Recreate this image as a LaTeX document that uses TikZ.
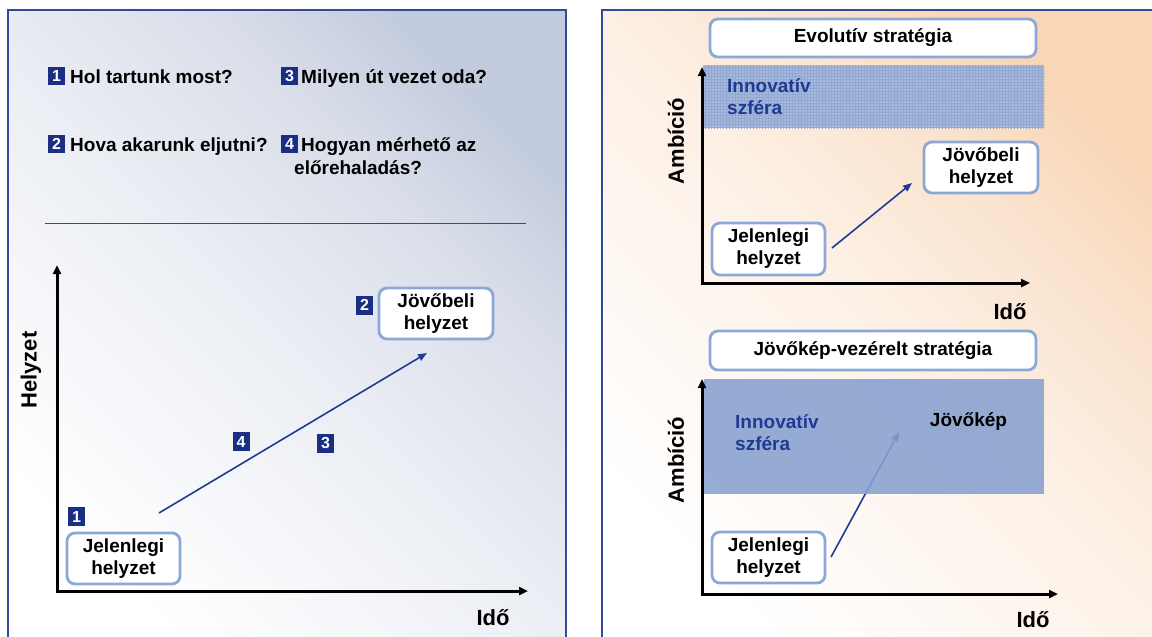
\documentclass[tikz,border=0pt]{standalone}
\usepackage{fontspec}
\setmainfont{Liberation Sans}
\usetikzlibrary{arrows.meta,patterns}
\definecolor{navy}{HTML}{1A2E84}
\definecolor{arrowblue}{HTML}{1F3B96}
\definecolor{boxline}{HTML}{8CA8D8}
\definecolor{frameline}{HTML}{34499A}
\definecolor{leftgrad}{HTML}{C3CCDE}
\definecolor{leftq}{HTML}{D8DDE8}
\definecolor{leftmid}{HTML}{EAEDF3}
\definecolor{rightgrad}{HTML}{F8D6B6}
\definecolor{rightq}{HTML}{FAE3CE}
\definecolor{rightmid}{HTML}{FDF1E7}
\definecolor{bandtop}{HTML}{A6B9DD}
\definecolor{bandgrid}{HTML}{92A8D3}
\definecolor{bandbot}{HTML}{87A1CF}
\definecolor{innov}{HTML}{1F3A93}
\definecolor{jkline}{HTML}{92AAD6}
\pgfdeclarehorizontalshading{leftsh}{100bp}{color(0bp)=(white); color(25bp)=(white); color(50bp)=(leftmid); color(65bp)=(leftq); color(75bp)=(leftgrad); color(100bp)=(leftgrad)}
\pgfdeclarehorizontalshading{rightsh}{100bp}{color(0bp)=(white); color(25bp)=(white); color(50bp)=(rightmid); color(65bp)=(rightq); color(75bp)=(rightgrad); color(100bp)=(rightgrad)}
\begin{document}
\begin{tikzpicture}[x=1pt,y=-1pt,
  txt/.style={font=\fontsize{19}{22}\selectfont\bfseries, inner sep=0pt},
  badge/.style={fill=navy, text=white, font=\fontsize{16}{16}\selectfont\bfseries, minimum width=17pt, minimum height=18pt, inner sep=0pt},
  sbox/.style={draw=boxline, line width=2.8pt, fill=white, rounded corners=8pt, align=center, font=\fontsize{19}{22}\selectfont\bfseries, inner sep=0pt},
  axisline/.style={line width=3pt, line join=miter, {Triangle[length=9pt,width=8pt]}-{Triangle[length=9pt,width=8pt]}},
  arr/.style={draw=arrowblue, line width=1.6pt, -{Triangle[length=9pt,width=7pt]}},
  axlabel/.style={font=\fontsize{22}{22}\selectfont\bfseries, inner sep=0pt},
]
\useasboundingbox (0,0) rectangle (1152,637);
\fill[white] (0,0) rectangle (1152,637);
% ---------- panels
\shade[shading=leftsh, shading angle=45] (8,10) rectangle (566,650);
\draw[frameline, line width=1.2pt] (8,650) |- (566,10) -- (566,650);
\shade[shading=rightsh, shading angle=45] (602,10) rectangle (1160,650);
\draw[frameline, line width=1.2pt] (602,650) |- (1160,10);
% ---------- questions
\node[badge] (b1) at (56.5,76) {1};
\node[txt, anchor=base west] (q1) at (70,83.6) {Hol tartunk most?};
\node[badge] (b3) at (289.5,76) {3};
\node[txt, anchor=base west] (q3) at (301,83.6) {Milyen út vezet oda?};
\node[badge] (b2) at (56.5,144) {2};
\node[txt, anchor=base west] (q2) at (70,151.6) {Hova akarunk eljutni?};
\node[badge] (b4) at (289.5,144) {4};
\node[txt, anchor=base west] (q4) at (301,151.6) {Hogyan mérhető az};
\node[txt, anchor=base west] (q4b) at (294,174) {előrehaladás?};
\draw[frameline, line width=1pt] (45,223) -- (526,223);
% ---------- left chart
\coordinate (ly) at (57,265);
\coordinate (lx) at (528,591);
\draw[axisline] (ly) |- (lx);
\node[axlabel, rotate=90] (hl) at (31,370) {Helyzet};
\node[axlabel] (id1) at (493,618) {Idő};
\node[sbox, minimum width=113pt, minimum height=51pt] (jel1) at (123.5,558.5) {Jelenlegi\\helyzet};
\node[sbox, minimum width=114pt, minimum height=51pt] (jov1) at (436,313.5) {Jövőbeli\\helyzet};
\node[badge, minimum height=19pt] (c1) at (76.5,516.5) {1};
\node[badge, minimum height=19pt] (c2) at (364.5,305) {2};
\node[badge, minimum height=19pt] (c4) at (241,441.5) {4};
\node[badge, minimum height=19pt] (c3) at (325.5,443.5) {3};
\coordinate (a1s) at (159,513);
\coordinate (a1e) at (427,353);
\draw[arr] (a1s) -- (a1e);
% ---------- right top chart
\node[sbox, minimum width=326pt, minimum height=38pt] (t1) at (873,38) {Evolutív stratégia};
\fill[bandtop] (703,65) rectangle (1044,128);
\fill[pattern=grid, pattern color=bandgrid] (703,65) rectangle (1044,128);
\node[txt, text=innov, anchor=west, align=left] (in1) at (727,97) {Innovatív\\szféra};
\node[axlabel, rotate=90] (am1) at (676,141) {Ambíció};
\node[sbox, minimum width=114pt, minimum height=51pt] (jov2) at (981,167.5) {Jövőbeli\\helyzet};
\node[sbox, minimum width=113pt, minimum height=52pt] (jel2) at (768.5,249) {Jelenlegi\\helyzet};
\coordinate (a2s) at (832,248);
\coordinate (a2e) at (912,183);
\draw[arr] (a2s) -- (a2e);
\coordinate (ry1) at (702,67);
\coordinate (rx1) at (1030,283);
\draw[axisline] (ry1) |- (rx1);
\node[axlabel] (id2) at (1010,312) {Idő};
% ---------- right bottom chart
\node[sbox, minimum width=326pt, minimum height=39pt] (t2) at (873,350.5) {Jövőkép-vezérelt stratégia};
\node[sbox, minimum width=113pt, minimum height=51pt] (jel3) at (768.5,557.5) {Jelenlegi\\helyzet};
\coordinate (a3s) at (831,557);
\coordinate (a3e) at (899,432);
\draw[arr] (a3s) -- (a3e);
\fill[bandbot, fill opacity=0.88] (704,379) rectangle (1044,494);
\node[draw=jkline, draw opacity=0.6, line width=2.5pt, rounded corners=8pt, minimum width=111pt, minimum height=48pt, inner sep=0pt, font=\fontsize{19}{22}\selectfont\bfseries] (jk) at (968.5,421) {Jövőkép};
\node[txt, text=innov, anchor=west, align=left] (in2) at (735,433) {Innovatív\\szféra};
\node[axlabel, rotate=90] (am2) at (676,460) {Ambíció};
\coordinate (ry2) at (702,379);
\coordinate (rx2) at (1058,594);
\draw[axisline] (ry2) |- (rx2);
\node[axlabel] (id3) at (1033,620) {Idő};
\end{tikzpicture}
\end{document}
